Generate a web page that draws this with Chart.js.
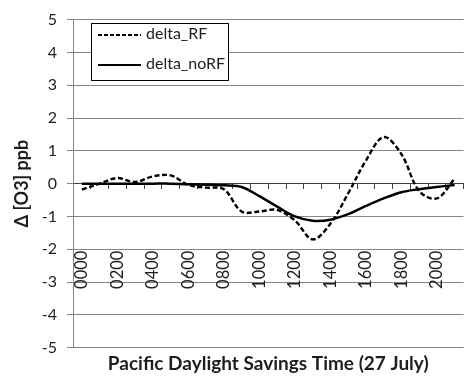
<!DOCTYPE html>
<html>
<head>
<meta charset="utf-8">
<script src="https://cdn.jsdelivr.net/npm/chart.js@4/dist/chart.umd.min.js"></script>
<style>
  html, body { margin: 0; padding: 0; background: #fff; }
  #wrap { width: 464px; height: 377px; }
</style>
</head>
<body>
<div id="wrap"><canvas id="c" width="464" height="377"></canvas></div>
<script>
// Hourly ozone difference, 27 July (Pacific Daylight Savings Time)
const hours = ['0000','0100','0200','0300','0400','0500','0600','0700','0800','0900','1000',
               '1100','1200','1300','1400','1500','1600','1700','1800','1900','2000','2100'];
const deltaRF   = [-0.18, 0.0, 0.17, 0.05, 0.22, 0.25, -0.04, -0.12, -0.17, -0.85, -0.85,
                   -0.8, -1.12, -1.7, -1.22, -0.3, 0.7, 1.42, 0.9, -0.22, -0.45, 0.15];
const deltaNoRF = [0, 0, 0, 0, 0, 0, -0.02, -0.03, -0.05, -0.1, -0.38,
                   -0.7, -1.0, -1.13, -1.1, -0.93, -0.68, -0.45, -0.26, -0.17, -0.1, -0.04];
const yMin = -5, yMax = 5, yStep = 1;
const seriesNames = ['delta_RF', 'delta_noRF'];
const yTitle = 'Δ [O3] ppb';
const xTitle = 'Pacific Daylight Savings Time (27 July)';

const FONT = 'Lato, "Open Sans", sans-serif';
const GRID = '#858585';
const TEXT = '#1e1e1e';

// Boxed legend sitting inside the plot area
const boxLegend = {
  id: 'boxLegend',
  afterDraw(chart) {
    const ctx = chart.ctx;
    const x0 = 91.5, y0 = 23.5, w = 137, h = 57;
    ctx.save();
    ctx.fillStyle = '#fff';
    ctx.fillRect(x0, y0, w, h);
    ctx.strokeStyle = '#000';
    ctx.lineWidth = 1;
    ctx.setLineDash([]);
    ctx.strokeRect(x0, y0, w, h);
    ctx.font = '16px ' + FONT;
    ctx.fillStyle = TEXT;
    ctx.textBaseline = 'middle';
    ctx.textAlign = 'left';
    chart.data.datasets.forEach((ds, i) => {
      const y = 35 + i * 30;
      ctx.strokeStyle = ds.borderColor;
      ctx.lineWidth = 1.8;
      ctx.setLineDash(i === 0 ? [4, 2] : []);
      ctx.beginPath();
      ctx.moveTo(98, y);
      ctx.lineTo(141, y);
      ctx.stroke();
      ctx.fillText(ds.label, 146, y - 1);
    });
    ctx.restore();
  }
};

new Chart(document.getElementById('c'), {
  type: 'line',
  data: {
    labels: hours,
    datasets: [
      {
        label: seriesNames[0],
        data: deltaRF,
        borderColor: '#000',
        borderWidth: 2.4,
        borderDash: [5, 2.6],
        pointRadius: 0,
        tension: 0.35,
        fill: false
      },
      {
        label: seriesNames[1],
        data: deltaNoRF,
        borderColor: '#000',
        borderWidth: 2.5,
        pointRadius: 0,
        tension: 0.35,
        fill: false
      }
    ]
  },
  options: {
    responsive: false,
    animation: false,
    layout: { padding: { top: 14, right: 0.5, bottom: 0, left: 0 } },
    plugins: {
      legend: { display: false },
      tooltip: { enabled: false },
      title: {
        display: true,
        position: 'bottom',
        fullSize: false,
        text: xTitle,
        color: TEXT,
        font: { family: FONT, size: 19, weight: 'bold' },
        padding: { top: 5, bottom: 1.5 }
      }
    },
    scales: {
      x: {
        type: 'category',
        position: { y: 0 },
        offset: true,
        grid: {
          display: true,
          drawOnChartArea: false,
          drawTicks: true,
          tickLength: 5,
          offset: true,
          color: '#404040'
        },
        border: { display: true, color: '#404040', width: 1 },
        ticks: {
          autoSkip: false,
          minRotation: 90,
          maxRotation: 90,
          padding: 62,
          color: TEXT,
          font: { family: FONT, size: 16.5 },
          callback(value, index) {
            return index % 2 === 0 ? this.getLabelForValue(value) : '';
          }
        },
        afterFit(scale) {
          scale.paddingLeft = 0;
          scale.paddingRight = 0;
        }
      },
      y: {
        min: yMin,
        max: yMax,
        ticks: {
          stepSize: yStep,
          padding: 10,
          color: TEXT,
          font: { family: FONT, size: 16 }
        },
        grid: { color: GRID, tickLength: 6 },
        border: { color: GRID },
        title: {
          display: true,
          text: yTitle,
          color: TEXT,
          font: { family: FONT, size: 18, weight: 'bold' },
          padding: { top: 11, bottom: 0 }
        },
        afterFit(scale) {
          scale.width = 73;
        }
      }
    }
  },
  plugins: [boxLegend]
});
</script>
</body>
</html>
